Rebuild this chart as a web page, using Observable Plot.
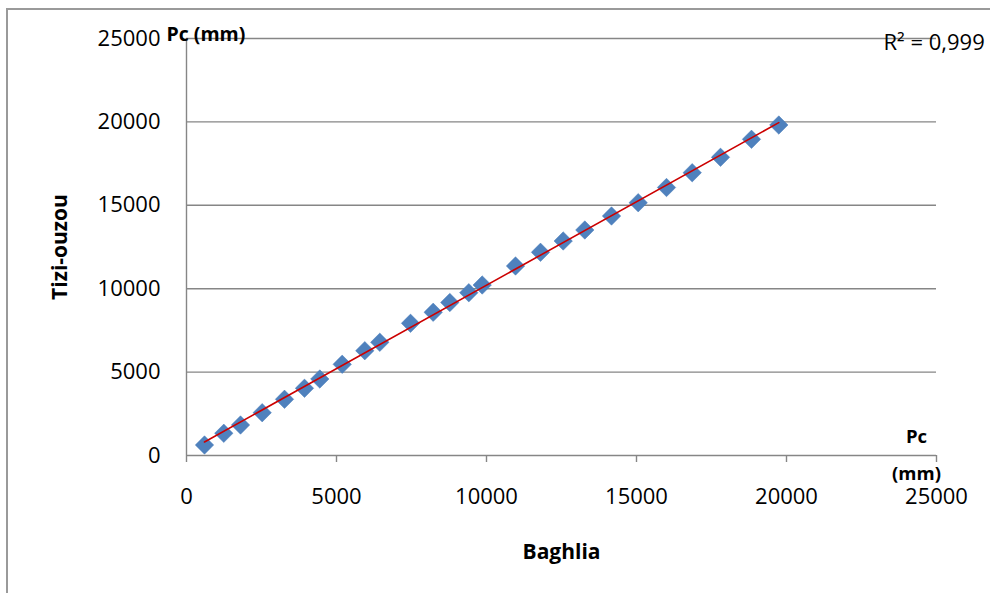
<!DOCTYPE html>
<html>
<head>
<meta charset="utf-8">
<script src="https://cdn.jsdelivr.net/npm/d3@7"></script>
<script src="https://cdn.jsdelivr.net/npm/@observablehq/plot@0.6"></script>
<style>
  html, body { margin: 0; padding: 0; background: white; }
  #wrap { position: relative; width: 990px; height: 593px; overflow: hidden; }
  #border { position: absolute; left: 6px; top: 8px; width: 1000px; height: 600px;
            border-left: 2px solid #9a9a9a; border-top: 2px solid #9a9a9a; pointer-events: none; }
</style>
</head>
<body>
<div id="wrap"><div id="chart"></div><div id="border"></div></div>
<script>
// Data (annual cumulative precipitation, mm)
const baghlia   = [600, 1243, 1800, 2523, 3267, 3933, 4443, 5190, 5943, 6443, 7467, 8223, 8777, 9410, 9857, 10967, 11800, 12557, 13277, 14167, 15057, 16000, 16857, 17800, 18833, 19743];
const tiziOuzou = [630, 1331, 1828, 2566, 3369, 4029, 4586, 5467, 6283, 6786, 7925, 8585, 9172, 9760, 10221, 11361, 12182, 12860, 13519, 14358, 15156, 16067, 16954, 17877, 18956, 19813];
const xTicks = [0, 5000, 10000, 15000, 20000, 25000];
const yTicks = [0, 5000, 10000, 15000, 20000, 25000];
const xLabel = "Baghlia";
const yLabel = "Tizi-ouzou";
const yUnit = "Pc (mm)";
const xUnit = "Pc\n(mm)";
const r2Label = "R² = 0,999";

const data = baghlia.map((b, i) => ({x: b, y: tiziOuzou[i]}));
const gray = "#868686";
const font = "'Open Sans', sans-serif";

const chart = Plot.plot({
  width: 990,
  height: 593,
  marginLeft: 186,
  marginRight: 54,
  marginTop: 38,
  marginBottom: 138,
  style: {fontFamily: font, fontSize: "22px", background: "white", color: "black"},
  x: {domain: [0, 25000]},
  y: {domain: [0, 25000]},
  marks: [
    Plot.gridY(yTicks, {stroke: gray, strokeOpacity: 1, strokeWidth: 1.4}),
    Plot.ruleX([0], {stroke: gray, strokeWidth: 1.4}),
    Plot.axisY(yTicks, {tickSize: 0, tickPadding: 26, fontSize: 22, fill: "black", label: null, tickFormat: d => String(d)}),
    Plot.axisX(xTicks, {tickSize: 7, tickPadding: 26, fontSize: 22, stroke: gray, strokeWidth: 1.4, fill: "black", label: null, tickFormat: d => String(d)}),
    Plot.dot(data, {x: "x", y: "y", symbol: "diamond2", r: 8.3, fill: "#4F81BD", stroke: "#4A7EBB", strokeWidth: 0.5}),
    Plot.linearRegressionY(data, {x: "x", y: "y", stroke: "#CC0000", strokeWidth: 1.6, ci: 0}),
    Plot.text([xLabel], {frameAnchor: "bottom", dy: 103, lineAnchor: "bottom", fontWeight: "bold", fontSize: 21, text: d => d}),
    Plot.text([yLabel], {frameAnchor: "left", dx: -120, rotate: -90, textAnchor: "middle", lineAnchor: "bottom", fontWeight: "bold", fontSize: 21, text: d => d}),
    Plot.text([yUnit], {frameAnchor: "top-left", dx: -20, dy: 2, textAnchor: "start", lineAnchor: "bottom", fontWeight: "bold", fontSize: 19.5, text: d => d}),
    Plot.text([xUnit], {frameAnchor: "bottom-right", dx: -20, dy: 24, textAnchor: "middle", lineAnchor: "bottom", lineHeight: 1.95, fontWeight: "bold", fontSize: 18.5, text: d => d}),
    Plot.text([r2Label], {frameAnchor: "top-right", dx: -53, dy: 11, textAnchor: "start", lineAnchor: "bottom", fontSize: 22, text: d => d})
  ]
});
document.getElementById("chart").appendChild(chart);
</script>
</body>
</html>
